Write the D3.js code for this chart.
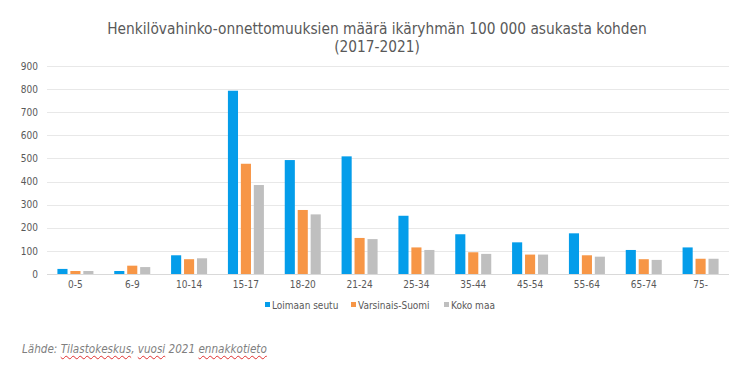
<!DOCTYPE html>
<html><head><meta charset="utf-8">
<script src="https://cdn.jsdelivr.net/npm/d3@7"></script>
<style>
body{margin:0;background:#fff;}
#src{position:absolute;left:22px;top:342px;font-family:"DejaVu Sans Condensed","DejaVu Sans",sans-serif;font-style:italic;font-size:11.6px;color:#7f7f7f;white-space:nowrap;}
#src u{text-decoration:underline wavy #e03030;text-decoration-thickness:1px;text-underline-offset:2px;}
</style></head>
<body>
<svg id="c" width="752" height="372"></svg>
<div id="src">Lähde: <u>Tilastokeskus</u>, <u>vuosi</u> 2021 <u>ennakkotieto</u></div>
<script>
const categories = ["0-5","6-9","10-14","15-17","18-20","21-24","25-34","35-44","45-54","55-64","65-74","75-"];
const seriesNames = ["Loimaan seutu","Varsinais-Suomi","Koko maa"];
const loimaa = [22,13,81,793,493,509,252,172,137,176,104,115];
const varsinais = [13,36,64,477,277,156,115,94,84,81,64,66];
const kokoMaa = [13,30,68,385,258,151,104,87,84,75,61,66];
const yTicks = [0,100,200,300,400,500,600,700,800,900];
const colors = ["#049DEA","#F79646","#BFBFBF"];
const titleLines = ["Henkilövahinko-onnettomuuksien määrä ikäryhmän 100 000 asukasta kohden","(2017-2021)"];

const series = [loimaa, varsinais, kokoMaa];
const svg = d3.select("#c");
const pL = 47, pR = 729, pT = 66, pB = 274;
const font = "'DejaVu Sans Condensed','DejaVu Sans',sans-serif";

const x0 = d3.scaleBand().domain(categories).range([pL, pR]).paddingInner(0).paddingOuter(0);
const x1 = d3.scaleBand().domain(seriesNames).range([0, 36]).paddingInner(0.22);
const y = d3.scaleLinear().domain([0, 900]).range([pB, pT]);

svg.append("g").selectAll("line").data(yTicks).join("line")
  .attr("x1", pL).attr("x2", pR)
  .attr("y1", d => Math.round(y(d)) + 0.5).attr("y2", d => Math.round(y(d)) + 0.5)
  .attr("stroke", d => d === 0 ? "#d9d9d9" : "#e8e8e8").attr("stroke-width", 1);

const yAxis = d3.axisLeft(y).tickValues(yTicks).tickSize(0).tickPadding(0);
const ya = svg.append("g").attr("transform", `translate(38,0)`).call(yAxis);
ya.select(".domain").remove();
ya.selectAll("text").attr("font-family", font).attr("font-size", 10).attr("fill", "#595959");

const xAxis = d3.axisBottom(x0).tickSize(0).tickPadding(0);
const xa = svg.append("g").attr("transform", `translate(0,${pB + 7})`).call(xAxis);
xa.select(".domain").remove();
xa.selectAll("text").attr("font-family", font).attr("font-size", 10).attr("fill", "#595959");

const groups = svg.append("g").selectAll("g").data(categories).join("g")
  .attr("transform", d => `translate(${x0(d) + (x0.bandwidth() - 36) / 2},0)`);
groups.selectAll("rect").data((d, i) => seriesNames.map((s, j) => ({s, j, v: series[j][i]}))).join("rect")
  .attr("x", d => x1(d.s)).attr("width", x1.bandwidth())
  .attr("y", d => y(d.v)).attr("height", d => y(0) - y(d.v))
  .attr("fill", d => colors[d.j]);

svg.append("g").selectAll("text").data(titleLines).join("text")
  .attr("x", 377).attr("y", (d, i) => 34 + i * 18)
  .attr("text-anchor", "middle").attr("font-family", font).attr("font-size", 15.3)
  .attr("fill", "#595959").text(d => d);

const legX = [272, 358, 451];
const leg = svg.append("g").selectAll("g").data(seriesNames).join("g")
  .attr("transform", (d, i) => `translate(${legX[i]},305)`);
leg.append("rect").attr("x", -7).attr("y", -3).attr("width", 5).attr("height", 5).attr("fill", (d, i) => colors[i]);
leg.append("text").attr("x", 0).attr("y", 0).attr("dy", "0.35em").attr("font-family", font)
  .attr("font-size", 10).attr("fill", "#595959").text(d => d);
</script>
</body></html>
